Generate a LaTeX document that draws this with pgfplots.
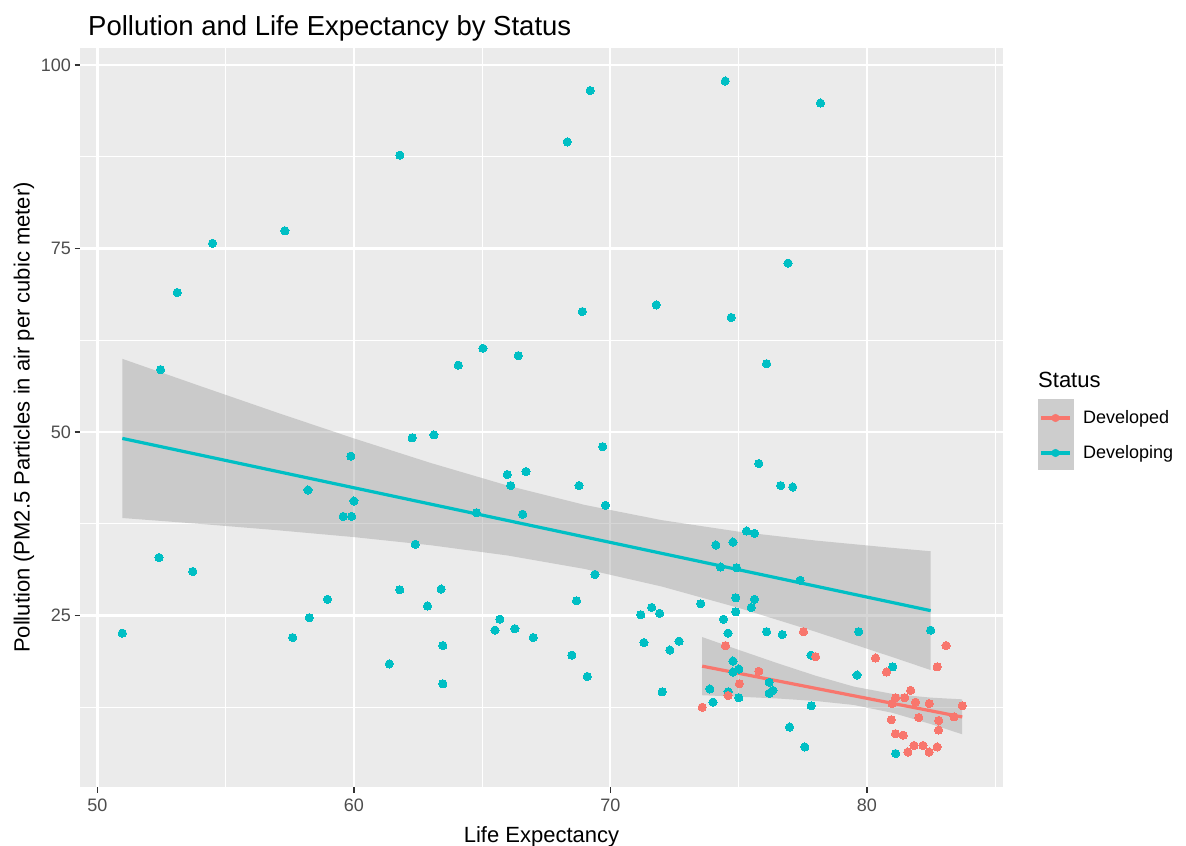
\documentclass[border=0pt]{standalone}
\usepackage{fontspec}
\setmainfont{Liberation Sans}
\usepackage{pgfplots}
\pgfplotsset{compat=1.18}

\definecolor{devred}{HTML}{F8766D}
\definecolor{devcyan}{HTML}{00BFC4}
\definecolor{panel}{HTML}{EBEBEB}
\definecolor{tickgray}{HTML}{4D4D4D}
\definecolor{tickmark}{HTML}{333333}
\definecolor{bandgray}{HTML}{999999}
\definecolor{keygray}{HTML}{CDCDCD}

\begin{document}
\begin{tikzpicture}
\useasboundingbox (0,0) rectangle (1186bp,846bp);
\begin{axis}[
  at={(80bp,59bp)}, anchor=south west,
  scale only axis, width=923bp, height=739bp,
  xmin=49.32, xmax=85.31, ymin=1.64, ymax=102.3,
  axis background/.style={fill=panel},
  axis line style={draw=none},
  xtick={50,60,70,80}, ytick={25,50,75,100},
  minor xtick={55,65,75,85}, minor ytick={12.5,37.5,62.5,87.5},
  grid=both,
  major grid style={white, line width=2.2bp},
  minor grid style={white, line width=1.1bp},
  tick pos=left,
  tick align=outside,
  major tick length=5.5bp, minor tick length=0pt,
  tick style={tickmark, line width=1.5bp},
  /pgf/number format/assume math mode=true,
  ticklabel style={font=\fontsize{18bp}{20bp}\selectfont, text=tickgray},
  xticklabel style={yshift=-3bp},
  xlabel={Life Expectancy},
  ylabel={Pollution (PM2.5 Particles in air per cubic meter)},
  label style={font=\fontsize{22bp}{24bp}\selectfont},
  xlabel style={yshift=-8bp},
  legend style={at={(1.03792,0.5203)}, anchor=north west, draw=none, fill=none,
    inner sep=0pt, outer sep=0pt, row sep=0pt,
    font=\fontsize{18bp}{20bp}\selectfont,
    nodes={inner sep=0pt}},
  legend cell align=left,
  legend image code/.code={
    \fill[keygray, overlay] (0bp,-16bp) rectangle (35bp,19bp);
    \draw[#1, line width=3.2bp] (3bp,0bp) -- (32bp,0bp);
    \fill[#1] (17.5bp,0bp) circle (3.8bp);
    \path[draw=none] (0bp,-19.5bp) rectangle (45bp,15.5bp);
  },
]

% scatter: developing countries
\addplot[only marks, mark=*, mark size=4.1bp, mark options={draw=devcyan, fill=devcyan, line width=0pt}, forget plot] table {
x y
52.46 58.5
53.11 69.0
54.49 75.7
57.31 77.4
61.79 87.7
64.07 59.1
65.03 61.4
66.41 60.4
69.21 96.5
68.32 89.5
74.48 97.8
78.19 94.8
68.91 66.4
71.79 67.3
74.71 65.6
76.93 73.0
76.09 59.3
62.27 49.2
63.12 49.6
59.88 46.7
58.21 42.1
60.00 40.6
59.58 38.5
59.91 38.5
65.98 44.2
66.71 44.6
66.11 42.7
64.78 39.0
66.58 38.8
62.39 34.7
52.40 32.9
53.72 31.0
50.97 22.6
57.61 22.0
58.26 24.7
58.97 27.2
61.79 28.5
63.40 28.6
62.87 26.3
65.69 24.5
65.50 23.0
66.28 23.2
66.99 22.0
63.47 20.9
61.38 18.4
63.47 15.7
69.70 48.0
68.78 42.7
69.81 40.0
75.79 45.7
76.64 42.7
77.11 42.5
75.31 36.5
75.62 36.2
74.11 34.6
74.78 35.0
74.30 31.6
74.92 31.5
77.40 29.8
69.40 30.6
68.68 27.0
74.89 27.4
75.62 27.2
75.49 26.1
74.89 25.5
73.52 26.6
74.41 24.5
74.59 22.6
76.09 22.8
76.70 22.4
71.19 25.1
71.61 26.1
71.92 25.3
71.31 21.3
72.32 20.3
72.68 21.5
68.50 19.6
69.10 16.7
72.02 14.6
73.88 15.0
74.00 13.2
74.78 18.8
74.78 17.3
75.01 17.7
74.59 14.6
75.01 13.8
76.19 15.9
76.19 14.4
76.34 14.8
77.82 19.6
77.83 12.7
76.99 9.8
77.58 7.1
79.68 22.8
79.62 16.9
81.01 18.0
82.49 23.0
81.12 6.2
};

% scatter: developed countries
\addplot[only marks, mark=*, mark size=4.1bp, mark options={draw=devred, fill=devred, line width=0pt}, forget plot] table {
x y
73.58 12.5
74.49 20.9
74.59 14.1
75.03 15.7
75.79 17.4
77.53 22.8
78.00 19.4
80.34 19.2
80.77 17.3
82.74 18.0
83.09 20.9
81.71 14.8
81.12 13.8
81.48 13.8
81.90 13.2
82.43 13.0
80.98 13.0
83.72 12.7
83.40 11.2
82.03 11.1
82.80 10.7
80.95 10.8
82.80 9.4
81.12 8.9
81.42 8.7
81.84 7.3
82.19 7.3
82.74 7.1
81.60 6.4
82.43 6.4
};

% confidence bands of the linear fits
\addplot[fill=bandgray, fill opacity=0.4, draw=none, forget plot] coordinates {
(50.97,59.96) (54,56.26) (57,52.64) (60,49.12) (63,45.77) (66,42.69) (69,40.06)
(72,37.99) (75,36.42) (78,35.21) (81,34.21) (82.49,33.75)
(82.49,17.57) (81,19.33) (78,22.79) (75,26.04) (72,28.95) (69,31.34) (66,33.17)
(63,34.57) (60,35.68) (57,36.62) (54,37.48) (50.97,38.28)
} -- cycle;
\addplot[fill=bandgray, fill opacity=0.4, draw=none, forget plot] coordinates {
(73.58,22.06) (75,20.32) (76.5,18.52) (78,16.80) (79.5,15.31) (81,14.32) (82.5,13.81) (83.72,13.58)
(83.72,8.82) (82.5,10.21) (81,11.74) (79.5,12.81) (78,13.36) (76.5,13.70) (75,13.94) (73.58,14.14)
} -- cycle;

% fitted lines
\addplot[devcyan, line width=3.2bp, forget plot] coordinates {(50.97,49.12) (82.49,25.66)};
\addplot[devred, line width=3.2bp, forget plot] coordinates {(73.58,18.10) (83.72,11.18)};

\addlegendimage{devred}
\addlegendentry{Developed}
\addlegendimage{devcyan}
\addlegendentry{Developing}
\end{axis}

\node[anchor=base west, inner sep=0pt, font=\fontsize{27.5bp}{30bp}\selectfont] at (88bp,810bp) {Pollution and Life Expectancy by Status};
\node[anchor=west, inner sep=0pt, font=\fontsize{22bp}{24bp}\selectfont] at (1038bp,466bp) {Status};
\end{tikzpicture}
\end{document}
